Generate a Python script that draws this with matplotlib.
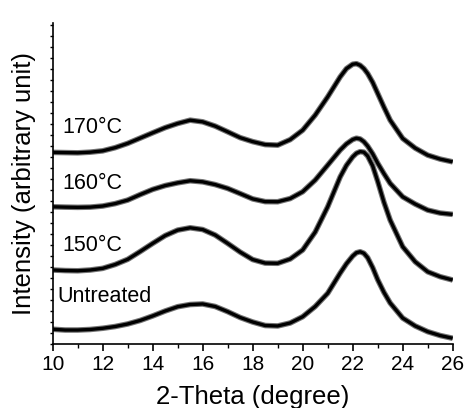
import numpy as np
import matplotlib
matplotlib.use('Agg')
import matplotlib.pyplot as plt
import matplotlib.patheffects as pe
from matplotlib.ticker import MultipleLocator, NullFormatter

plt.rcParams['font.family'] = ['Liberation Sans', 'DejaVu Sans']

# 2-theta positions (degree)
two_theta = [10, 10.5, 11, 11.5, 12, 12.5, 13, 13.5, 14, 14.5, 15, 15.5, 16, 16.5,
             17, 17.5, 18, 18.5, 19, 19.5, 20, 20.5, 21, 21.5, 21.75, 22, 22.15, 22.3,
             22.45, 22.6, 22.8, 23, 23.25, 23.5, 24, 24.5, 25, 25.5, 26]

# Intensities (arbitrary unit, stacked offsets included)
untreated = [1.34, 1.27, 1.27, 1.32, 1.43, 1.59, 1.82, 2.14, 2.55, 3.00, 3.39, 3.59, 3.64, 3.41,
             2.94, 2.41, 2.00, 1.68, 1.64, 1.91, 2.48, 3.41, 4.61, 6.45, 7.30, 8.00, 8.30, 8.39,
             8.25, 7.85, 6.95, 5.85, 4.70, 3.73, 2.36, 1.64, 1.12, 0.77, 0.52]
t150 = [6.73, 6.68, 6.66, 6.73, 6.88, 7.23, 7.70, 8.41, 9.15, 9.86, 10.36, 10.57, 10.41, 9.91,
        9.15, 8.36, 7.68, 7.36, 7.34, 7.73, 8.55, 10.18, 12.48, 15.20, 16.25, 17.02, 17.35, 17.50,
        17.45, 17.10, 16.20, 14.80, 12.90, 11.27, 8.85, 7.48, 6.57, 6.12, 5.82]
t160 = [12.48, 12.45, 12.43, 12.45, 12.55, 12.77, 13.09, 13.59, 14.06, 14.41, 14.66, 14.85, 14.75, 14.50,
        14.15, 13.68, 13.20, 12.95, 12.94, 13.23, 13.85, 14.91, 16.27, 17.64, 18.20, 18.60, 18.72, 18.65,
        18.40, 18.00, 17.30, 16.45, 15.50, 14.61, 13.39, 12.73, 12.18, 11.91, 11.79]
t170 = [17.43, 17.41, 17.39, 17.45, 17.57, 17.86, 18.25, 18.73, 19.21, 19.68, 20.06, 20.36, 20.21, 19.82,
        19.30, 18.77, 18.41, 18.14, 18.09, 18.59, 19.45, 20.82, 22.48, 24.30, 25.05, 25.45, 25.50, 25.35,
        25.05, 24.60, 23.80, 22.80, 21.55, 20.36, 18.70, 17.82, 17.18, 16.82, 16.57]

curves = [untreated, t150, t160, t170]
labels = ['Untreated', '150°C', '160°C', '170°C']
label_y = [4.3, 9.0, 14.6, 19.7]

fig = plt.figure(figsize=(4.65, 4.08), dpi=100)
ax = fig.add_axes([0.1133, 0.1569, 0.8602, 0.7867])

fuzz = [pe.Stroke(linewidth=4.0, foreground='0.45'), pe.Normal()]
for y in curves:
    ax.plot(two_theta, y, color='black', lw=2.4, path_effects=fuzz,
            solid_joinstyle='round', solid_capstyle='butt')

for lab, ly in zip(labels, label_y):
    x0 = 10.2 if lab == 'Untreated' else 10.4
    ax.text(x0, ly, lab, fontsize=15.5, va='center', ha='left')

ax.set_xlim(10, 26)
ax.set_ylim(0, 29.2)
ax.xaxis.set_major_locator(MultipleLocator(2))
ax.xaxis.set_minor_locator(MultipleLocator(1))
ax.yaxis.set_major_locator(MultipleLocator(1))
ax.yaxis.set_major_formatter(NullFormatter())
ax.tick_params(axis='x', which='major', direction='out', length=5, width=1.2, labelsize=15, pad=3)
ax.tick_params(axis='x', which='minor', direction='out', length=3, width=1.0)
ax.tick_params(axis='y', which='major', direction='out', length=2.5, width=1.0)

for side in ['top', 'right']:
    ax.spines[side].set_visible(False)
for side in ['left', 'bottom']:
    ax.spines[side].set_linewidth(1.2)

ax.set_xlabel('2-Theta (degree)', fontsize=18.5, labelpad=8)
ax.set_ylabel('Intensity (arbitrary unit)', fontsize=18.5, labelpad=6)

fig.savefig('out.png', dpi=100)
